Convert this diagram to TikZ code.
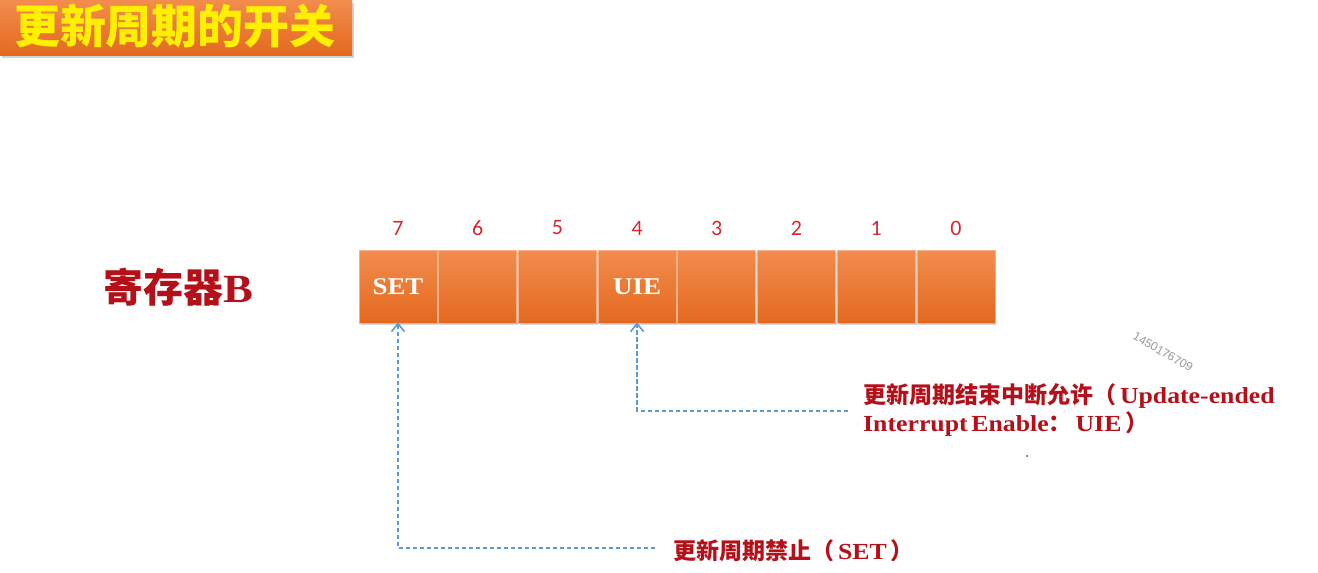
\documentclass[tikz,border=0pt]{standalone}
\usepackage{fontspec}
\setmainfont{Liberation Serif}[FakeStretch=1.12]
\newfontfamily\cjk{Noto Sans CJK SC}
\newfontfamily\numfont{Carlito}
\newfontfamily\wmfont{Liberation Sans}
\usetikzlibrary{shadows,arrows.meta}
\definecolor{orTop}{HTML}{F28C4E}
\definecolor{orBot}{HTML}{E4691F}
\definecolor{orEdge}{HTML}{F5B08A}
\definecolor{dred}{HTML}{B5101A}
\definecolor{numred}{HTML}{D22A33}
\definecolor{dashblue}{HTML}{5B9BD5}
\definecolor{ttlyellow}{HTML}{FFF000}
\begin{document}
\begin{tikzpicture}[x=1pt,y=-1pt,
  regbox/.style={draw=orEdge,line width=0.8pt,top color=orTop,bottom color=orBot,
    minimum width=78pt,minimum height=73pt,inner sep=0pt,
    drop shadow={shadow xshift=1.5pt,shadow yshift=-2pt,opacity=0.3},
    font=\bfseries\fontsize{24}{26}\selectfont,text=white},
  bitnum/.style={font=\numfont\fontsize{22}{24}\selectfont,text=numred,inner sep=0pt},
  dlabel/.style={font=\bfseries\fontsize{23}{28}\selectfont,text=dred,inner sep=0pt,align=left,anchor=west},
  darrow/.style={draw=dashblue,line width=1.5pt,dash pattern=on 4.5pt off 2.5pt,
    -{Straight Barb[length=8pt,width=13pt,line width=1.6pt]}}
]
\useasboundingbox[fill=white] (0,0) rectangle (1318,573);

% title banner
\node[draw=none,top color=orTop,bottom color=orBot,minimum width=352pt,minimum height=55pt,
  inner sep=0pt,anchor=north west,
  drop shadow={shadow xshift=1.5pt,shadow yshift=-2.5pt,opacity=0.35}] (title) at (0,0) {};
\node[font=\cjk\bfseries\fontsize{46}{48}\selectfont,text=ttlyellow,inner sep=0pt] (titletext) at (175,26) {更新周期的开关};

% register name
\node[font=\bfseries\fontsize{40}{42}\selectfont,text=dred,inner sep=0pt,anchor=west] (regname) at (103,287) {{\cjk 寄存器}B};

% register bits
\node[regbox] (b7) at (398,286.5) {SET};
\node[regbox] (b6) at (477.7,286.5) {};
\node[regbox] (b5) at (557.4,286.5) {};
\node[regbox] (b4) at (637.1,286.5) {UIE};
\node[regbox] (b3) at (716.8,286.5) {};
\node[regbox] (b2) at (796.5,286.5) {};
\node[regbox] (b1) at (876.2,286.5) {};
\node[regbox] (b0) at (955.9,286.5) {};

\node[bitnum] (n7) at (398,228) {7};
\node[bitnum] (n6) at (477.7,228) {6};
\node[bitnum] (n5) at (557.4,228) {5};
\node[bitnum] (n4) at (637.1,228) {4};
\node[bitnum] (n3) at (716.8,228) {3};
\node[bitnum] (n2) at (796.5,228) {2};
\node[bitnum] (n1) at (876.2,228) {1};
\node[bitnum] (n0) at (955.9,228) {0};

% labels
\node[dlabel] (uielab) at (863,410) {{\cjk 更新周期结束中断允许（}\,Update-ended\\Interrupt\,Enable{\cjk ：}\,UIE\,{\cjk ）}};
\node[dlabel] (setlab) at (673,551) {{\cjk 更新周期禁止（}\,SET\,{\cjk ）}};

% connectors
\coordinate (uieend) at (848,411);
\coordinate (setend) at (655,548);
\draw[darrow] (uieend) -| ([yshift=1pt]b4.south);
\draw[darrow] (setend) -| ([yshift=1pt]b7.south);

% watermark and dot
\node[font=\wmfont\fontsize{12}{12}\selectfont,text=black!40,rotate=-30,inner sep=0pt] (wm) at (1163,352) {1450176709};
\fill[dred] (1027,456) circle (1pt);
\end{tikzpicture}
\end{document}
